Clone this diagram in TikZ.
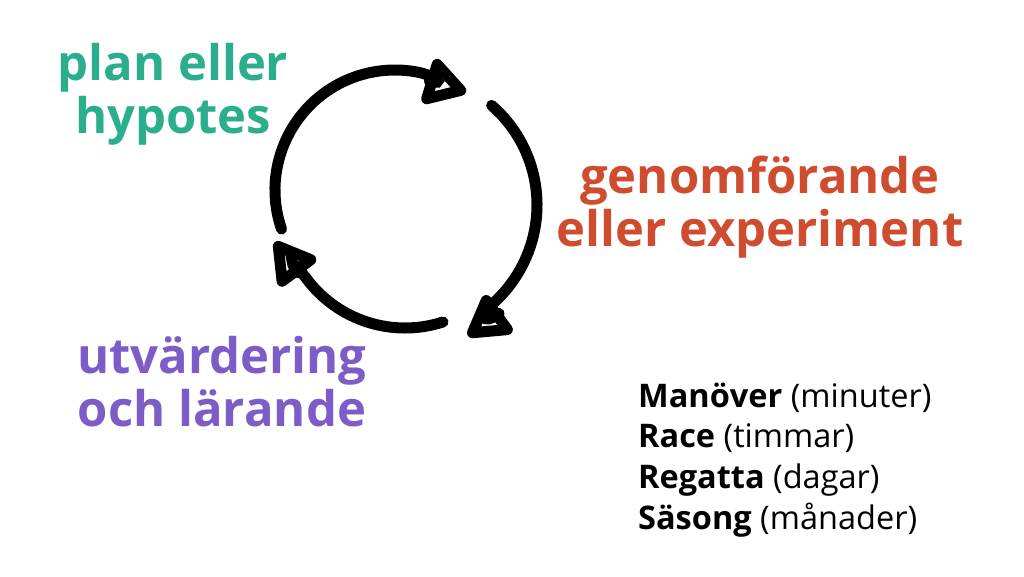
\documentclass[tikz,border=0pt]{standalone}
\usepackage{fontspec}
\setmainfont{Open Sans}
\usetikzlibrary{arrows.meta}
\definecolor{plangreen}{HTML}{2BAE8C}
\definecolor{doorange}{HTML}{D04C2F}
\definecolor{learnpurple}{HTML}{7C5CC7}

\begin{document}
\begin{tikzpicture}[x=1pt, y=1pt,
		cyclearrow/.style={line width=11pt, line cap=round,
			-{Triangle[open, round, length=47pt, width=52pt]}},
		phase/.style={inner sep=0pt, align=center,
			font=\fontsize{49}{53}\selectfont\bfseries},
		timescale/.style={inner sep=0pt, align=left,
			font=\fontsize{32.5}{40.7}\selectfont}
		]
	\fill[white] (0,0) rectangle (1024,576);

	% the three steps
	\node [phase, text=plangreen] (plan) at (173,482) {plan eller\\hypotes};
	\node [phase, text=doorange] (doing) at (760,369) {genomförande\\eller experiment};
	\node [phase, text=learnpurple] (learn) at (222,194) {utvärdering\\och lärande};

	% the cycle
	\coordinate (c1) at (395,386);
	\coordinate (c2) at (405,371);
	\coordinate (t1) at (466,484);
	\coordinate (t2) at (468,240);
	\coordinate (t3) at (275,334);
	\draw [cyclearrow] (c1) ++(199:120) arc[start angle=199, end angle=80, radius=120]
		to[out=-10, in=163] (t1);
	\draw [cyclearrow] (c2) ++(49:132) arc[start angle=49, end angle=-48, radius=132]
		to[out=222, in=36] (t2);
	\draw [cyclearrow] (c2) ++(-72:123) arc[start angle=-72, end angle=-143, radius=123]
		to[out=127, in=-53] (t3);

	% time scales
	\node [timescale, anchor=west] (scales) at (638,116)
		{\textbf{Manöver} (minuter)\\\textbf{Race} (timmar)\\
		 \textbf{Regatta} (dagar)\\\textbf{Säsong} (månader)};
\end{tikzpicture}
\end{document}
